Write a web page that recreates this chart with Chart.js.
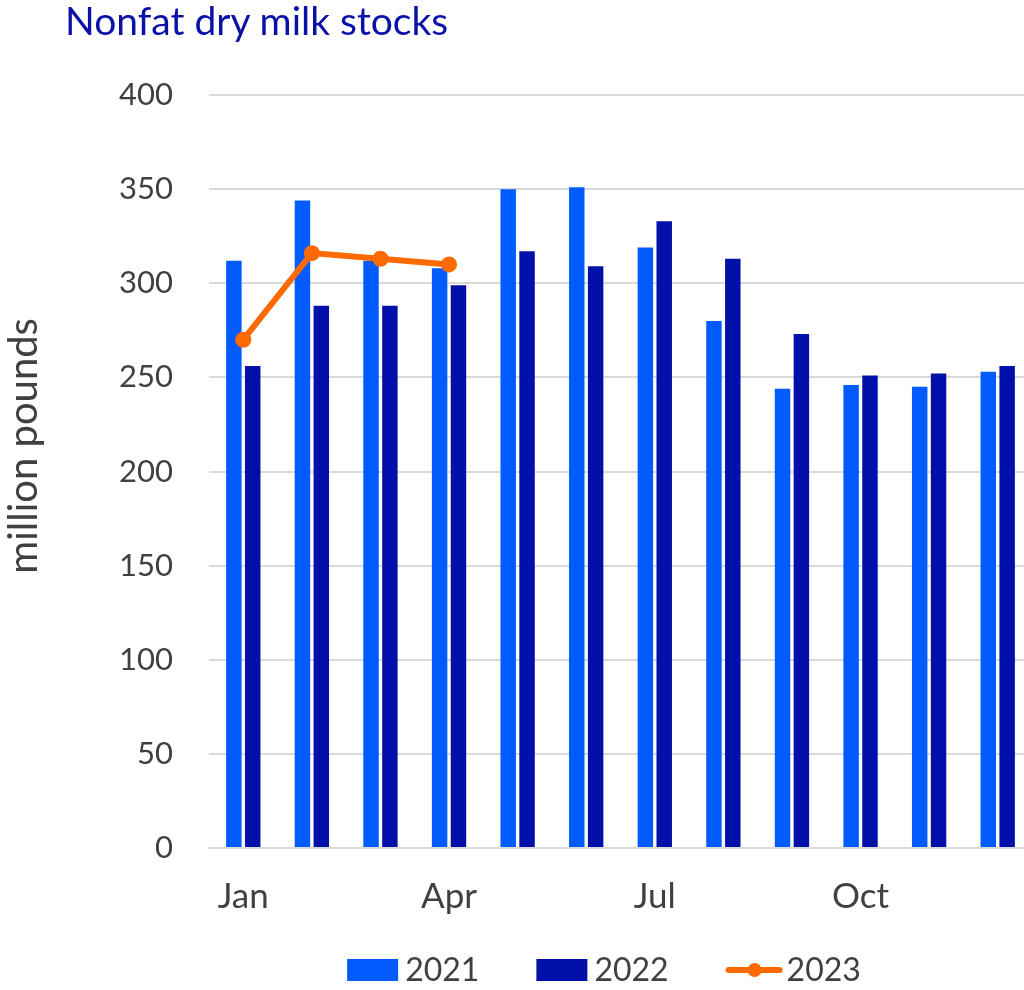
<!DOCTYPE html>
<html>
<head>
<meta charset="utf-8">
<script src="https://cdn.jsdelivr.net/npm/chart.js@4"></script>
<style>
  html, body { margin: 0; padding: 0; background: #fff; overflow: hidden; }
  #wrap { position: relative; width: 1040px; height: 990px; }
  #title {
    position: absolute; left: 65px; top: -3px;
    font-family: Lato, sans-serif; font-size: 39px; color: #0A10A8;
    line-height: 46px; white-space: nowrap;
  }
</style>
</head>
<body>
<div id="wrap">
  <div id="title">Nonfat dry milk stocks</div>
  <canvas id="chart" width="1040" height="990"></canvas>
</div>
<script>
  var months = ['Jan', 'Feb', 'Mar', 'Apr', 'May', 'Jun', 'Jul', 'Aug', 'Sep', 'Oct', 'Nov', 'Dec'];
  var stocks2021 = [312, 344, 312, 308, 350, 351, 319, 280, 244, 246, 245, 253];
  var stocks2022 = [256, 288, 288, 299, 317, 309, 333, 313, 273, 251, 252, 256];
  var stocks2023 = [270, 316, 313, 310, null, null, null, null, null, null, null, null];
  var yTicks = [0, 50, 100, 150, 200, 250, 300, 350, 400];

  var blue21 = '#005CFF';
  var blue22 = '#0010A8';
  var orange = '#FF6A00';
  var textColor = '#404040';

  // legend under the axis, drawn by hand so the spacing can follow the original
  var bottomLegend = {
    id: 'bottomLegend',
    afterDraw: function (chart) {
      var ctx = chart.ctx;
      var entries = [1, 2, 0].map(function (i) { return chart.data.datasets[i]; });
      ctx.save();
      ctx.font = '32px Lato';
      ctx.textBaseline = 'middle';
      ctx.fillStyle = textColor;

      var widths = entries.map(function (ds) {
        var iconW = ds.type === 'line' ? 57 : 51;
        var gap = ds.type === 'line' ? 4 : 7;
        return iconW + gap + ctx.measureText(ds.label).width;
      });
      var spacing = 57;
      var total = widths.reduce(function (a, b) { return a + b; }, 0) + spacing * (entries.length - 1);
      var x = 604 - total / 2;
      var y = 970;

      entries.forEach(function (ds, i) {
        if (ds.type === 'line') {
          ctx.strokeStyle = ds.borderColor;
          ctx.lineWidth = 6;
          ctx.lineCap = 'round';
          ctx.beginPath();
          ctx.moveTo(x + 3, y);
          ctx.lineTo(x + 54, y);
          ctx.stroke();
          ctx.fillStyle = ds.borderColor;
          ctx.beginPath();
          ctx.arc(x + 29, y, 7, 0, Math.PI * 2);
          ctx.fill();
          ctx.fillStyle = textColor;
          ctx.fillText(ds.label, x + 61, y + 1);
        } else {
          ctx.fillStyle = ds.backgroundColor;
          ctx.fillRect(x, y - 11, 51, 22);
          ctx.fillStyle = textColor;
          ctx.fillText(ds.label, x + 58, y + 1);
        }
        x += widths[i] + spacing;
      });
      ctx.restore();
    }
  };

  new Chart(document.getElementById('chart').getContext('2d'), {
    data: {
      labels: months,
      datasets: [
        {
          type: 'line',
          label: '2023',
          data: stocks2023,
          borderColor: orange,
          backgroundColor: orange,
          borderWidth: 6,
          pointRadius: 8,
          pointHoverRadius: 8,
          pointBackgroundColor: orange,
          pointBorderWidth: 0,
          spanGaps: false,
          order: 0
        },
        {
          type: 'bar',
          label: '2021',
          data: stocks2021,
          backgroundColor: blue21,
          categoryPercentage: 0.55,
          barPercentage: 0.82,
          order: 1
        },
        {
          type: 'bar',
          label: '2022',
          data: stocks2022,
          backgroundColor: blue22,
          categoryPercentage: 0.55,
          barPercentage: 0.82,
          order: 1
        }
      ]
    },
    options: {
      responsive: false,
      animation: false,
      layout: { padding: { top: 95, right: 5, left: 0, bottom: 70 } },
      scales: {
        x: {
          afterFit: function (axis) { axis.height = 72; },
          grid: { display: false, drawTicks: false },
          border: { display: true, color: '#d9d9d9', width: 2 },
          ticks: {
            autoSkip: false,
            maxRotation: 0,
            padding: 28,
            color: textColor,
            font: { family: 'Lato', size: 35 },
            callback: function (value, index) {
              return index % 3 === 0 ? months[index] : '';
            }
          }
        },
        y: {
          min: 0,
          max: 400,
          afterFit: function (axis) { axis.width = 209; },
          afterBuildTicks: function (axis) {
            axis.ticks = yTicks.map(function (v) { return { value: v }; });
          },
          grid: { color: '#d9d9d9', lineWidth: 2, drawTicks: false },
          border: { display: false },
          ticks: {
            padding: 36,
            color: textColor,
            font: { family: 'Lato', size: 31 }
          },
          title: {
            display: true,
            text: '     million pounds',
            color: textColor,
            font: { family: 'Lato', size: 40 },
            padding: { top: 0, bottom: 0 }
          }
        }
      },
      plugins: {
        tooltip: { enabled: false },
        legend: { display: false }
      }
    },
    plugins: [bottomLegend]
  });
</script>
</body>
</html>
